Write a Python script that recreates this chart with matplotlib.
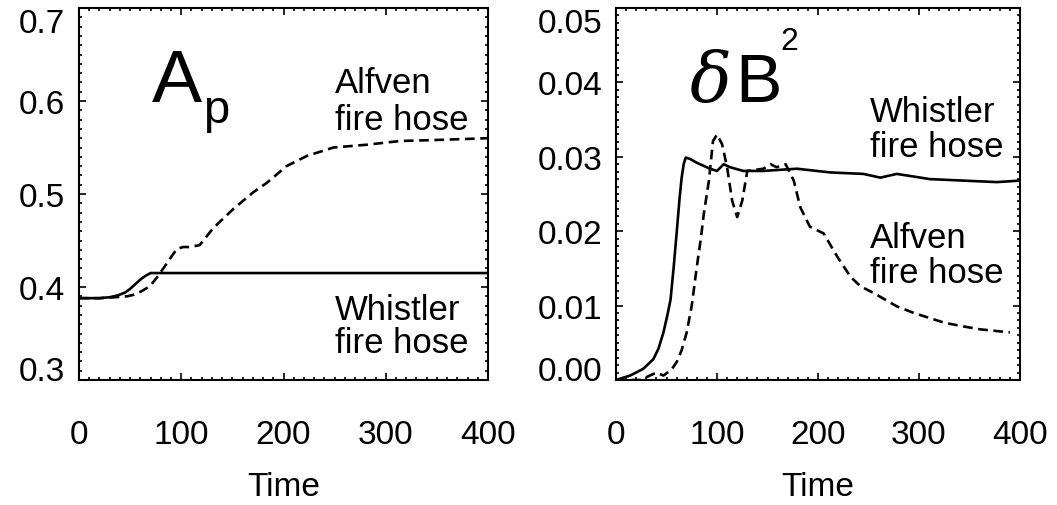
import matplotlib
matplotlib.use("Agg")
import matplotlib.pyplot as plt
from matplotlib.ticker import MultipleLocator
import numpy as np

plt.rcParams['font.family'] = ['Liberation Sans', 'DejaVu Sans']
plt.rcParams['lines.scale_dashes'] = False

# ---- Data ----
# Left panel: A_p
t_ap_whistler = [0, 20, 30, 38, 45, 50, 55, 60, 65, 70, 80, 100, 150, 200, 250, 300, 350, 400]
ap_whistler   = [0.388, 0.388, 0.389, 0.391, 0.394, 0.398, 0.403, 0.408, 0.412, 0.415, 0.415, 0.415, 0.415, 0.415, 0.415, 0.415, 0.415, 0.415]

t_ap_alfven = [0, 20, 35, 47, 55, 62, 69.5, 76, 82.5, 90, 95.6, 102, 108.6, 118, 131, 151, 170.6, 183.7, 203, 223, 249, 281.6, 314, 347, 400]
ap_alfven   = [0.388, 0.388, 0.389, 0.390, 0.392, 0.396, 0.401, 0.410, 0.420, 0.432, 0.441, 0.443, 0.443, 0.445, 0.463, 0.484, 0.502, 0.512, 0.530, 0.541, 0.550, 0.553, 0.557, 0.558, 0.560]

# Right panel: dB^2
t_db_whistler = [0, 14, 27, 37, 42, 47, 51, 54, 57, 60, 63, 65, 67, 69, 73.6, 80, 93, 100, 106.6, 113, 126, 146, 179, 212, 245, 261.7, 278, 311, 344, 377, 400]
db_whistler   = [0.0, 0.0006, 0.0015, 0.0028, 0.0042, 0.0064, 0.0088, 0.0108, 0.0150, 0.0197, 0.0245, 0.0272, 0.0290, 0.0299, 0.0297, 0.0292, 0.0284, 0.0281, 0.0290, 0.0286, 0.0281, 0.0281, 0.0284, 0.0279, 0.0277, 0.0272, 0.0277, 0.0270, 0.0268, 0.0266, 0.0268]

t_db_alfven = [0, 24, 40, 47, 55, 60, 65, 70, 75, 80, 84, 87, 92, 96, 100, 105, 110, 115, 120, 125, 130, 146, 153, 159, 168, 176, 182.5, 192, 205.6, 219, 232, 242, 255, 278, 295, 325, 344, 361, 390]
db_alfven   = [0.0, 0.0, 0.001, 0.0006, 0.0014, 0.0024, 0.0040, 0.0064, 0.0100, 0.0152, 0.0190, 0.0224, 0.0268, 0.0321, 0.0330, 0.0317, 0.0286, 0.0241, 0.0219, 0.0241, 0.0281, 0.0284, 0.0290, 0.0286, 0.0290, 0.0268, 0.0232, 0.0206, 0.0197, 0.0166, 0.0139, 0.0126, 0.0117, 0.0099, 0.0090, 0.0077, 0.0072, 0.0068, 0.0064]

x_ticks = [0, 100, 200, 300, 400]
x_ticklabels = ["0", "100", "200", "300", "400"]
ap_ticks = [0.3, 0.4, 0.5, 0.6, 0.7]
ap_ticklabels = ["0.3", "0.4", "0.5", "0.6", "0.7"]
db_ticks = [0.0, 0.01, 0.02, 0.03, 0.04, 0.05]
db_ticklabels = ["0.00", "0.01", "0.02", "0.03", "0.04", "0.05"]

W, H = 1057, 506
fig = plt.figure(figsize=(W / 100, H / 100), dpi=100)

def px_axes(x0, x1, ytop, ybot):
    return fig.add_axes([x0 / W, 1 - ybot / H, (x1 - x0) / W, (ybot - ytop) / H])

axL = px_axes(79, 488, 9, 381)
axR = px_axes(616, 1020, 9, 381)

lw = 1.9
dash = (7, 4)

axL.plot(t_ap_whistler, ap_whistler, color='black', lw=lw)
axL.plot(t_ap_alfven, ap_alfven, color='black', lw=lw, dashes=dash)
axR.plot(t_db_whistler, db_whistler, color='black', lw=lw)
axR.plot(t_db_alfven, db_alfven, color='black', lw=lw, dashes=dash)

for ax, yt, ytl, ylim, yminor in [(axL, ap_ticks, ap_ticklabels, (0.3, 0.7), 0.01),
                                  (axR, db_ticks, db_ticklabels, (0.0, 0.05), 0.001)]:
    ax.set_xlim(0, 400)
    ax.set_ylim(*ylim)
    ax.set_xticks(x_ticks)
    ax.set_xticklabels(x_ticklabels)
    ax.set_yticks(yt)
    ax.set_yticklabels(ytl)
    ax.xaxis.set_minor_locator(MultipleLocator(10))
    ax.yaxis.set_minor_locator(MultipleLocator(yminor))
    ax.tick_params(which='both', direction='in', top=True, right=True, width=1.2, color='black')
    ax.tick_params(which='major', length=5)
    ax.tick_params(which='minor', length=2.5)
    ax.tick_params(axis='x', which='major', pad=28, labelsize=24)
    ax.tick_params(axis='y', which='major', pad=10, labelsize=24)
    for s in ax.spines.values():
        s.set_linewidth(1.5)
    ax.set_xlabel("Time", fontsize=24, labelpad=15)
    ylabels = ax.get_yticklabels()
    ylabels[0].set_va('baseline')
    ylabels[-1].set_va('top')

# Left annotations
axL.text(0.178, 0.75, "A", transform=axL.transAxes, fontsize=54, va='baseline', ha='left')
axL.text(0.303, 0.694, "p", transform=axL.transAxes, fontsize=34, va='baseline', ha='left')
axL.text(0.626, 0.774, "Alfven", transform=axL.transAxes, fontsize=25, va='baseline', ha='left')
axL.text(0.626, 0.675, "fire hose", transform=axL.transAxes, fontsize=25, va='baseline', ha='left')
axL.text(0.626, 0.164, "Whistler", transform=axL.transAxes, fontsize=25, va='baseline', ha='left')
axL.text(0.626, 0.075, "fire hose", transform=axL.transAxes, fontsize=25, va='baseline', ha='left')

# Right annotations
axR.text(0.183, 0.75, "δ", transform=axR.transAxes, fontsize=50, va='baseline', ha='left',
         family='DejaVu Serif', style='italic')
axR.text(0.295, 0.75, "B", transform=axR.transAxes, fontsize=50, va='baseline', ha='left')
axR.text(0.406, 0.89, "2", transform=axR.transAxes, fontsize=23, va='baseline', ha='left')
axR.text(0.629, 0.696, "Whistler", transform=axR.transAxes, fontsize=25, va='baseline', ha='left')
axR.text(0.629, 0.602, "fire hose", transform=axR.transAxes, fontsize=25, va='baseline', ha='left')
axR.text(0.629, 0.358, "Alfven", transform=axR.transAxes, fontsize=25, va='baseline', ha='left')
axR.text(0.629, 0.263, "fire hose", transform=axR.transAxes, fontsize=25, va='baseline', ha='left')

fig.savefig("out.png", dpi=100)
